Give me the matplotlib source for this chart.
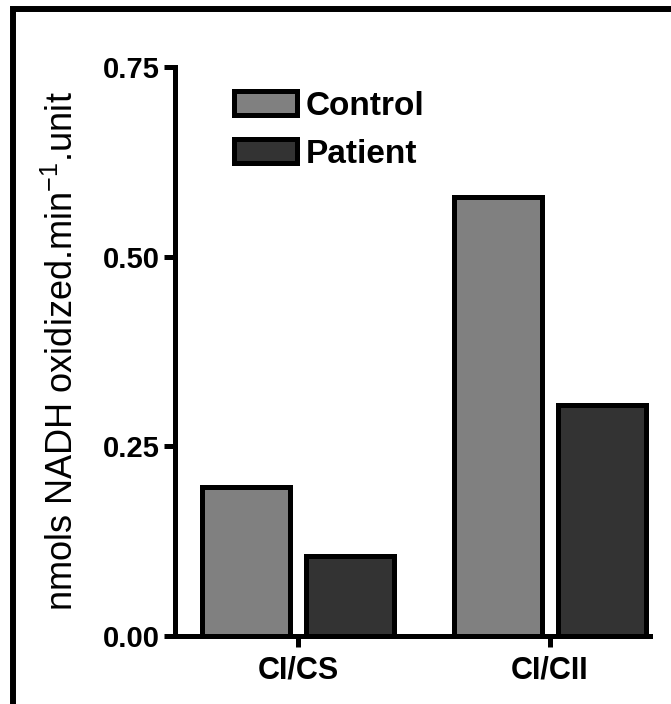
import numpy as np
import matplotlib
matplotlib.use("Agg")
import matplotlib.pyplot as plt
from matplotlib.patches import Patch, Rectangle

# ── data ──────────────────────────────────────────────────────────────────────
groups   = ["CI/CS", "CI/CII"]
series   = ["Control", "Patient"]
control  = [0.197, 0.578]
patient  = [0.106, 0.305]
yticks   = [0.00, 0.25, 0.50, 0.75]

COLORS = {"Control": "#808080", "Patient": "#333333"}

plt.rcParams["font.family"] = ["Liberation Sans", "DejaVu Sans"]

fig = plt.figure(figsize=(6.71, 7.04), dpi=100)
ax = fig.add_axes([175/671, 1 - 636/704, 475/671, 569/704])

x = np.arange(len(groups))
w, off = 0.35, 0.206
ax.bar(x - off, control, w, color=COLORS["Control"], edgecolor="black",
       linewidth=3.6, label="Control", zorder=2)
ax.bar(x + off, patient, w, color=COLORS["Patient"], edgecolor="black",
       linewidth=3.6, label="Patient", zorder=2)

ax.set_xlim(-0.488, 1.397)
ax.set_ylim(0, 0.75)
ax.set_yticks(yticks)
ax.set_yticklabels([f"{v:.2f}" for v in yticks])
ax.set_xticks(x)
ax.set_xticklabels(groups)

for s in ["top", "right"]:
    ax.spines[s].set_visible(False)
for s in ["left", "bottom"]:
    ax.spines[s].set_linewidth(3.6)
    ax.spines[s].set_capstyle("projecting")
ax.tick_params(axis="both", direction="out", width=3.6, length=8)
ax.tick_params(axis="y", labelsize=21, pad=3)
ax.tick_params(axis="x", labelsize=22, pad=6)
for lab in ax.get_xticklabels() + ax.get_yticklabels():
    lab.set_fontweight("bold")

ax.set_ylabel("nmols NADH oxidized.min$^{\\mathregular{-1}}$.unit",
              fontsize=26)
ax.yaxis.set_label_coords(-0.198, 0.5)

handles = [Patch(facecolor=COLORS[s], edgecolor="black", linewidth=3.6,
                 label=s) for s in series]
leg = ax.legend(handles=handles, loc="upper left",
                bbox_to_anchor=(0.124, 0.958), frameon=False,
                borderpad=0, borderaxespad=0,
                prop={"size": 24, "weight": "bold"},
                handlelength=1.9, handleheight=0.75, handletextpad=0.25,
                labelspacing=0.5)

# outer frame (only top and left visible in the reference crop)
fig.add_artist(Rectangle((12.5/671, -0.1), 1.2, 1.1 - 9.5/704,
                         transform=fig.transFigure, fill=False,
                         edgecolor="black", linewidth=4.3, clip_on=False))

fig.savefig("out.png", dpi=100)
